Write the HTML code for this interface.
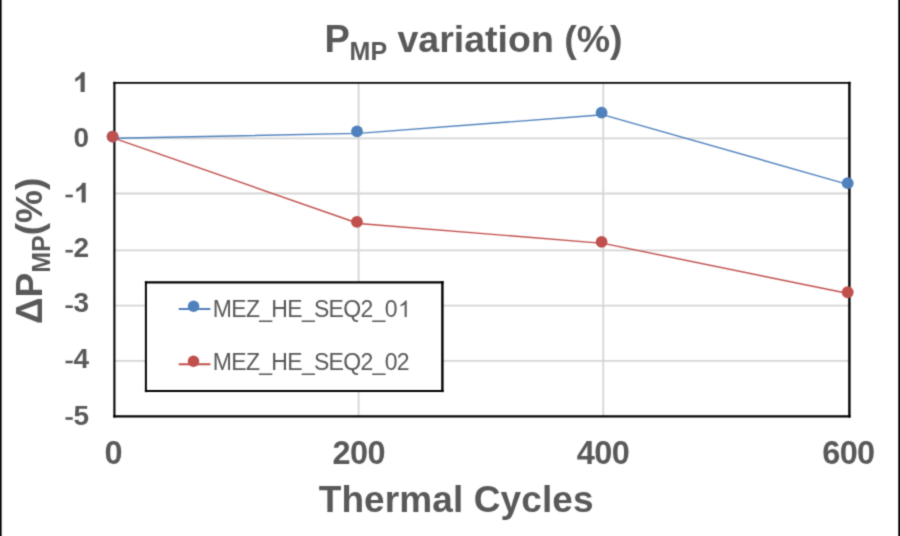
<!DOCTYPE html>
<html><head><meta charset="utf-8">
<style>
html,body{margin:0;padding:0;background:#fff;width:900px;height:536px;overflow:hidden;}
svg{display:block;will-change:transform;}
text{font-family:"Liberation Sans",sans-serif;fill:#595959;}
.b{font-weight:bold;}
</style></head><body>
<svg width="900" height="536" viewBox="0 0 900 536">
<defs>
<filter id="bl" x="0" y="0" width="100%" height="100%" filterUnits="userSpaceOnUse" color-interpolation-filters="sRGB"><feConvolveMatrix order="3" kernelMatrix="1 4 1 4 16 4 1 4 1" divisor="36" edgeMode="duplicate"/></filter>
<path id="one" d="M813 0H532V1030Q378 860 169 780V1040Q279 1090 408 1200Q537 1320 585 1484H813Z"/>
<path id="oner" d="M763 0H583V1147Q518 1085 413 1023Q308 961 224 930V1104Q375 1175 488 1276Q601 1377 648 1472H763Z"/>
</defs>
<g filter="url(#bl)">
<rect x="0" y="0" width="900" height="536" fill="#fff"/>
<rect x="0" y="0" width="1.6" height="536" fill="#000"/>
<rect x="898.3" y="0" width="1.7" height="536" fill="#000"/>
<!-- gridlines -->
<g stroke="#d5d5d5" stroke-width="1.8" fill="none">
<line x1="114.4" y1="138.3" x2="849.4" y2="138.3"/>
<line x1="114.4" y1="193.5" x2="849.4" y2="193.5"/>
<line x1="114.4" y1="250.4" x2="849.4" y2="250.4"/>
<line x1="114.4" y1="305.6" x2="849.4" y2="305.6"/>
<line x1="114.4" y1="360.9" x2="849.4" y2="360.9"/>
<line x1="358.6" y1="82.9" x2="358.6" y2="416.3"/>
<line x1="603.3" y1="82.9" x2="603.3" y2="416.3"/>
</g>
<!-- plot frame -->
<g stroke="#000" fill="none">
<line x1="113.3" y1="82.9" x2="850.6" y2="82.9" stroke-width="1.9"/>
<line x1="113.3" y1="416.3" x2="850.6" y2="416.3" stroke-width="2.3"/>
<line x1="114.4" y1="81.85" x2="114.4" y2="417.45" stroke-width="2.05"/>
<line x1="849.4" y1="81.85" x2="849.4" y2="417.45" stroke-width="2.4"/>
</g>
<!-- series -->
<polyline points="114.4,138.3 358.6,133.4 603.3,114.8 849.4,184.8" fill="none" stroke="#4f81bd" stroke-width="1.4" stroke-linejoin="round"/>
<polyline points="114.4,138.3 358.6,223.5 603.3,243.4 849.4,293.8" fill="none" stroke="#c0504d" stroke-width="1.4" stroke-linejoin="round"/>
<g fill="#4f81bd">
<circle cx="112.6" cy="136.6" r="5.9"/>
<circle cx="357" cy="131.3" r="5.9"/>
<circle cx="601.6" cy="112.7" r="5.9"/>
<circle cx="847.7" cy="183.2" r="5.9"/>
</g>
<g fill="#c0504d">
<circle cx="112.6" cy="136.6" r="5.9"/>
<circle cx="356.95" cy="221.95" r="5.9"/>
<circle cx="601.6" cy="241.9" r="5.9"/>
<circle cx="847.7" cy="292.25" r="5.9"/>
</g>
<!-- legend -->
<rect x="145.9" y="282.3" width="296.5" height="108.75" fill="#fff"/>
<g stroke="#000" fill="none">
<line x1="144.9" y1="282.3" x2="443.6" y2="282.3" stroke-width="2.3"/>
<line x1="144.9" y1="391.05" x2="443.6" y2="391.05" stroke-width="2.1"/>
<line x1="145.9" y1="281.15" x2="145.9" y2="392.1" stroke-width="2.0"/>
<line x1="442.4" y1="281.15" x2="442.4" y2="392.1" stroke-width="2.4"/>
</g>
<line x1="178.7" y1="309" x2="210.4" y2="309" stroke="#4f81bd" stroke-width="2.1"/>
<circle cx="193.6" cy="306.2" r="5.75" fill="#4f81bd"/>
<line x1="178.7" y1="364.3" x2="210.4" y2="364.3" stroke="#c0504d" stroke-width="2.1"/>
<circle cx="193.5" cy="361.3" r="5.75" fill="#c0504d"/>
<text x="212.8" y="317.1" font-size="23" letter-spacing="-0.7">MEZ_HE_SEQ2_0</text>
<use href="#oner" fill="#595959" transform="translate(398.1,317.1) scale(0.01123,-0.01123)"/>
<text x="212.8" y="370.2" font-size="23" letter-spacing="-0.7">MEZ_HE_SEQ2_02</text>
<!-- y axis labels -->
<g fill="#595959">
<use href="#one" transform="translate(72.7,92.0) scale(0.0148,-0.0133)"/>
<use href="#one" transform="translate(73.7,202.5) scale(0.0148,-0.0133)"/>
<rect x="65.5" y="194.7" width="7.3" height="2.6"/>
<rect x="65.5" y="249.9" width="7.3" height="2.6"/>
<rect x="65.5" y="305.4" width="7.3" height="2.6"/>
<rect x="65.5" y="360.7" width="7.3" height="2.6"/>
<rect x="65.5" y="417.2" width="7.3" height="2.6"/>
</g>
<g font-size="28" text-anchor="end">
<text class="b" x="89.2" y="146.7">0</text>
<text class="b" x="89.2" y="257.3">2</text>
<text class="b" x="89.2" y="312.3">3</text>
<text class="b" x="89.2" y="367.5">4</text>
<text class="b" x="89.2" y="424.8">5</text>
</g>
<!-- x axis labels -->
<g font-size="32.5" text-anchor="middle">
<text class="b" x="113.5" y="463.6">0</text>
<text class="b" x="358.8" y="463.6" letter-spacing="-0.6">200</text>
<text class="b" x="603" y="463.6" letter-spacing="-0.6">400</text>
<text class="b" x="848.4" y="463.6" letter-spacing="-0.6">600</text>
</g>
<!-- axis titles -->
<text class="b" x="456.2" y="512" font-size="37" text-anchor="middle" letter-spacing="0.1">Thermal Cycles</text>
<text class="b" font-size="37" transform="translate(42,324) rotate(-90)">ΔP<tspan font-size="25" dy="8.4">MP</tspan><tspan dy="-8.4">(%)</tspan></text>
<!-- title -->
<text class="b" x="324.5" y="51.6" font-size="38">P</text><text class="b" x="349.6" y="59.8" font-size="25">MP</text>
<text class="b" x="397.5" y="51.9" font-size="37.5">variation (%)</text>
</g>
</svg>
</body></html>
